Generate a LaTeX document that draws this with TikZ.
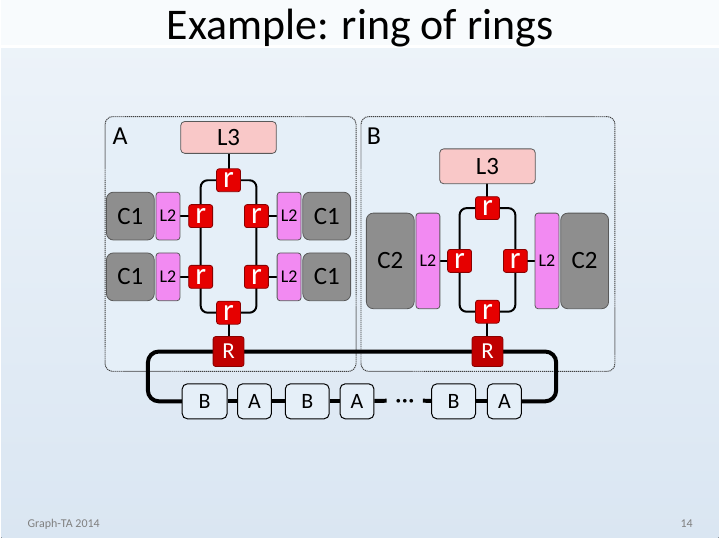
\documentclass[tikz,border=0pt]{standalone}
\usepackage{fontspec}
\setmainfont{Carlito}
\usepackage{tikz}
\usetikzlibrary{shapes,positioning,calc}
\pgfdeclarelayer{slide}
\pgfdeclarelayer{wires}
\pgfsetlayers{slide,wires,main}

\definecolor{slidetop}{HTML}{EEF4FA}
\definecolor{slidebot}{HTML}{DAE6F2}
\definecolor{panelbg}{HTML}{E5EFF8}
\definecolor{lthreepink}{HTML}{F9C8C8}
\definecolor{ltwoviolet}{HTML}{F28AF2}
\definecolor{cgray}{HTML}{8E8E8E}
\definecolor{rred}{HTML}{E60000}
\definecolor{rdark}{HTML}{8A0000}
\definecolor{Rred}{HTML}{C00000}
\newcommand{\fsz}[1]{\fontsize{#1}{#1}\selectfont}

\begin{document}
\begin{tikzpicture}[x=1pt,y=-1pt]
\tikzstyle{box}=[rectangle, rounded corners=4pt, draw=black!65, line width=0.8pt, inner sep=0pt]
\tikzstyle{lthree}=[box, fill=lthreepink, minimum width=96pt, minimum height=32pt, font=\fsz{25}]
\tikzstyle{ltwo}=[box, rounded corners=3pt, fill=ltwoviolet, minimum width=24pt, minimum height=48pt, font=\fsz{18}]
\tikzstyle{cluster}=[box, rounded corners=7pt, fill=cgray, minimum width=48pt, minimum height=48pt, font=\fsz{25}]
\tikzstyle{rnode}=[box, rounded corners=2.5pt, fill=rred, draw=rdark, minimum width=24pt, minimum height=23pt, text=white, font=\fsz{31}]
\tikzstyle{Rnode}=[rnode, fill=Rred, minimum width=31pt, minimum height=30pt, font=\fsz{23}]
\tikzstyle{ringbox}=[box, rounded corners=5pt, fill=panelbg, draw=black, line width=1pt, minimum height=35pt, font=\fsz{22}]
\tikzstyle{panel}=[draw=black!75, dash pattern=on 1.2pt off 0.8pt, rounded corners=8pt, fill=panelbg, line width=1pt]
\tikzstyle{wire}=[line width=2pt, rounded corners=7pt]
\tikzstyle{bigwire}=[line width=4pt, rounded corners=11pt]

% slide
\begin{pgfonlayer}{slide}
  \fill[top color=slidetop, bottom color=slidebot] (0,0) rectangle (720,540);
  \fill[white!60!slidetop] (0,0) rectangle (720,45);
  \draw[white, line width=3pt] (0,47) -- (720,47);
  \draw[panel] (104,117) rectangle (356,373);
  \draw[panel] (361,117) rectangle (616,373);
\end{pgfonlayer}

\node (title) at (360,28) {\fsz{44}Example: ring of rings};
\node (foot) [gray, anchor=west, inner sep=0pt] at (26,526) {\fsz{12}Graph-TA 2014};
\node (page) [gray] at (688,526) {\fsz{12}14};

% panel A
\node (labA) at (119,137) {\fsz{26}A};
\node[lthree] (AL3)   at (228,138) {L3};
\node[rnode]  (Artop) at (228,181) {r};
\node[rnode]  (Ar1)   at (200,217) {r};
\node[rnode]  (Ar2)   at (256,217) {r};
\node[rnode]  (Ar3)   at (200,278) {r};
\node[rnode]  (Ar4)   at (256,278) {r};
\node[rnode]  (Arbot) at (228,314) {r};
\node[Rnode]  (AR)    at (228,353) {R};

\node[ltwo]    (AL2a) [left=8pt of Ar1]   {L2};
\node[ltwo]    (AL2b) [right=8pt of Ar2]  {L2};
\node[ltwo]    (AL2c) [left=8pt of Ar3]   {L2};
\node[ltwo]    (AL2d) [right=8pt of Ar4]  {L2};
\node[cluster] (AC1a) [left=1pt of AL2a]  {C1};
\node[cluster] (AC1b) [right=1pt of AL2b] {C1};
\node[cluster] (AC1c) [left=1pt of AL2c]  {C1};
\node[cluster] (AC1d) [right=1pt of AL2d] {C1};

% panel B
\node (labB) at (374,137) {\fsz{26}B};
\node[lthree, minimum height=35pt] (BL3) at (488,167) {L3};
\node[rnode]  (Brtop) at (488,209) {r};
\node[rnode]  (Brl)   at (460,262) {r};
\node[rnode]  (Brr)   at (516,262) {r};
\node[rnode]  (Brbot) at (488,313) {r};
\node[Rnode]  (BR)    at (488,353) {R};

\node[ltwo, minimum height=96pt]    (BL2a) [left=7pt of Brl]   {L2};
\node[ltwo, minimum height=96pt]    (BL2b) [right=7pt of Brr]  {L2};
\node[cluster, minimum height=96pt] (BC2a) [left=1pt of BL2a]  {C2};
\node[cluster, minimum height=96pt] (BC2b) [right=1pt of BL2b] {C2};

% ring of rings
\node[ringbox, minimum width=45pt] (RB1) at (204,403) {B};
\node[ringbox, minimum width=34pt] (RA1) at (254,403) {A};
\node[ringbox, minimum width=44pt] (RB2) at (307,403) {B};
\node[ringbox, minimum width=34pt] (RA2) at (357,403) {A};
\node[inner sep=0pt, minimum width=36pt, minimum height=8pt, text height=2pt, text depth=0pt] (Rdots) at (405,402) {\raisebox{-7pt}{\fsz{26}···}};
\node[ringbox, minimum width=44pt] (RB3) at (454,403) {B};
\node[ringbox, minimum width=34pt] (RA3) at (505,403) {A};

\coordinate (ringW) at (147,378);
\coordinate (ringE) at (557,378);

\begin{pgfonlayer}{wires}
  \draw[wire] (Ar3.center) -- (Ar1.center) |- (Artop.center) -| (Ar2.center)
              -- (Ar4.center) |- (Arbot.center) -| (Ar3.center);
  \draw[wire] (AL3.center) -- (Artop.center);
  \draw[wire] (Arbot.center) -- (AR.center);
  \draw[wire] (AL2a.center) -- (Ar1.center);
  \draw[wire] (AL2b.center) -- (Ar2.center);
  \draw[wire] (AL2c.center) -- (Ar3.center);
  \draw[wire] (AL2d.center) -- (Ar4.center);

  \draw[wire] (Brl.center) |- (Brtop.center) -| (Brr.center)
              |- (Brbot.center) -| (Brl.center);
  \draw[wire] (BL3.center) -- (Brtop.center);
  \draw[wire] (Brbot.center) -- (BR.center);
  \draw[wire] (BL2a.center) -- (Brl.center);
  \draw[wire] (BL2b.center) -- (Brr.center);

  \draw[bigwire] (RB1.center) -| (ringW) |- (AR.center) -- (BR.center)
                 -| (ringE) |- (RA3.center);
\end{pgfonlayer}

\draw[bigwire] (RB1) -- (RA1);
\draw[bigwire] (RA1) -- (RB2);
\draw[bigwire] (RB2) -- (RA2);
\draw[bigwire] (RA2) -- (Rdots);
\draw[bigwire] (Rdots) -- (RB3);
\draw[bigwire] (RB3) -- (RA3);

\end{tikzpicture}
\end{document}
